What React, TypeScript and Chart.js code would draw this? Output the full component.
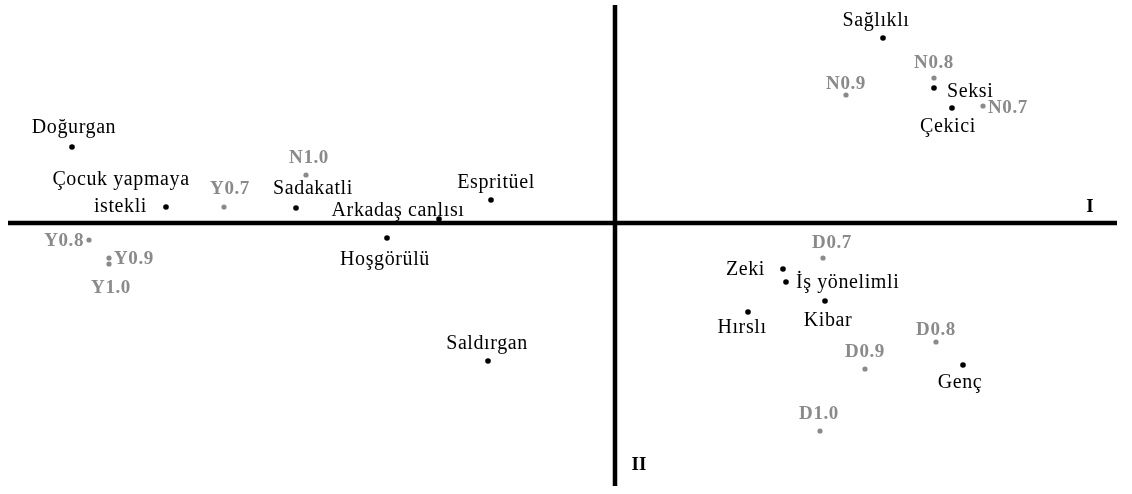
import React, { useEffect, useRef } from "react";
import { Chart, registerables } from "chart.js";

Chart.register(...registerables);

// Dimension I / Dimension II scores
const attributeNames = [
  "Doğurgan", "Çocuk yapmaya istekli", "Sadakatli", "Arkadaş canlısı", "Espritüel",
  "Hoşgörülü", "Saldırgan", "Sağlıklı", "Seksi", "Çekici",
  "Zeki", "İş yönelimli", "Kibar", "Hırslı", "Genç",
];
const attributeDim1 = [
  -1.086, -0.898, -0.638, -0.352, -0.248,
  -0.456, -0.254, 0.536, 0.638, 0.674,
  0.336, 0.342, 0.420, 0.266, 0.696,
];
const attributeDim2 = [
  0.152, 0.032, 0.030, 0.008, 0.046,
  -0.030, -0.276, 0.370, 0.270, 0.230,
  -0.092, -0.118, -0.156, -0.178, -0.284,
];

const groupNames = [
  "Y0.7", "Y0.8", "Y0.9", "Y1.0", "N1.0", "N0.9", "N0.8", "N0.7",
  "D0.7", "D0.8", "D0.9", "D1.0",
];
const groupDim1 = [
  -0.782, -1.052, -1.012, -1.012, -0.618, 0.462, 0.638, 0.736,
  0.416, 0.642, 0.500, 0.410,
];
const groupDim2 = [
  0.032, -0.034, -0.070, -0.082, 0.096, 0.256, 0.290, 0.234,
  -0.070, -0.238, -0.292, -0.416,
];

const dim1Range = [-1.214, 1.004];
const dim2Range = [-0.526, 0.436];

const axisTitles = ["I", "II"];
const axisTitleX = [0.95, 0.048];
const axisTitleY = [0.022, -0.494];

// label placement (pixel offsets from point to text baseline)
type Place = { t?: string; dx: number; dy: number; align?: CanvasTextAlign };
const placement: Record<string, Place[]> = {
  "Doğurgan": [{ dx: 2, dy: -14 }],
  "Çocuk yapmaya istekli": [
    { t: "Çocuk yapmaya", dx: -45, dy: -22 },
    { t: "istekli", dx: -19, dy: 5, align: "right" },
  ],
  "Sadakatli": [{ dx: 17, dy: -14 }],
  "Arkadaş canlısı": [{ dx: -41, dy: -3 }],
  "Espritüel": [{ dx: 5, dy: -12 }],
  "Hoşgörülü": [{ dx: -2, dy: 27 }],
  "Saldırgan": [{ dx: -1, dy: -12 }],
  "Sağlıklı": [{ dx: -7, dy: -12 }],
  "Seksi": [{ dx: 13, dy: 9, align: "left" }],
  "Çekici": [{ dx: -4, dy: 24 }],
  "Zeki": [{ dx: -18, dy: 6, align: "right" }],
  "İş yönelimli": [{ dx: 10, dy: 6, align: "left" }],
  "Kibar": [{ dx: 3, dy: 25 }],
  "Hırslı": [{ dx: -6, dy: 21 }],
  "Genç": [{ dx: -3, dy: 23 }],
  "Y0.7": [{ dx: 6, dy: -13 }],
  "Y0.8": [{ dx: -5, dy: 6, align: "right" }],
  "Y0.9": [{ dx: 5, dy: 6, align: "left" }],
  "Y1.0": [{ dx: 2, dy: 29 }],
  "N1.0": [{ dx: 3, dy: -12 }],
  "N0.9": [{ dx: 0, dy: -6 }],
  "N0.8": [{ dx: 0, dy: -10 }],
  "N0.7": [{ dx: 5, dy: 7, align: "left" }],
  "D0.7": [{ dx: 9, dy: -10 }],
  "D0.8": [{ dx: 0, dy: -7 }],
  "D0.9": [{ dx: 0, dy: -12 }],
  "D1.0": [{ dx: -1, dy: -12 }],
};

const GRAY = "#8a8a8a";
const SERIF = '"Liberation Serif", "Times New Roman", serif';

const labelPlugin = {
  id: "pointLabels",
  afterDatasetsDraw(chart: any) {
    const ctx: CanvasRenderingContext2D = chart.ctx;
    ctx.save();
    ctx.textBaseline = "alphabetic";
    chart.data.datasets.forEach((ds: any, di: number) => {
      if (!ds.names) return;
      const meta = chart.getDatasetMeta(di);
      const bold = ds.isGroup;
      ctx.font = bold ? `bold 19px ${SERIF}` : `20px ${SERIF}`;
      (ctx as any).letterSpacing = bold ? "0.6px" : "0.6px";
      ctx.fillStyle = bold ? GRAY : "#000";
      meta.data.forEach((el: any, i: number) => {
        const name = ds.names[i];
        const places = placement[name] || [{ dx: 0, dy: -10 }];
        places.forEach((p) => {
          ctx.textAlign = p.align || "center";
          ctx.fillText(p.t || name, el.x + p.dx, el.y + p.dy);
        });
      });
    });
    const xs = chart.scales.x;
    const ys = chart.scales.y;
    ctx.font = `bold 19px ${SERIF}`;
    (ctx as any).letterSpacing = "0px";
    ctx.fillStyle = "#000";
    ctx.textAlign = "center";
    axisTitles.forEach((t, i) => {
      ctx.fillText(t, xs.getPixelForValue(axisTitleX[i]), ys.getPixelForValue(axisTitleY[i]));
    });
    ctx.restore();
  },
};

export default function App() {
  const ref = useRef<HTMLCanvasElement | null>(null);
  useEffect(() => {
    if (!ref.current) return;
    const chart = new Chart(ref.current, {
      type: "scatter",
      data: {
        datasets: [
          {
            type: "line",
            data: [
              { x: dim1Range[0], y: 0 },
              { x: dim1Range[1], y: 0 },
            ],
            borderColor: "#000",
            borderWidth: 4.5,
            pointRadius: 0,
            fill: false,
          } as any,
          {
            type: "line",
            data: [
              { x: 0, y: dim2Range[1] },
              { x: 0, y: dim2Range[0] },
            ],
            borderColor: "#000",
            borderWidth: 4.5,
            pointRadius: 0,
            fill: false,
          } as any,
          {
            data: groupNames.map((_, i) => ({ x: groupDim1[i], y: groupDim2[i] })),
            names: groupNames,
            isGroup: true,
            pointRadius: 2.6,
            pointBackgroundColor: GRAY,
            pointBorderWidth: 0,
            borderColor: GRAY,
          } as any,
          {
            data: attributeNames.map((_, i) => ({ x: attributeDim1[i], y: attributeDim2[i] })),
            names: attributeNames,
            pointRadius: 2.8,
            pointBackgroundColor: "#000",
            pointBorderWidth: 0,
            borderColor: "#000",
          } as any,
        ],
      },
      options: {
        animation: false,
        responsive: false,
        maintainAspectRatio: false,
        layout: { padding: { left: 8, right: 15, top: 5, bottom: 8 } },
        plugins: { legend: { display: false }, tooltip: { enabled: false } },
        scales: {
          x: { type: "linear", min: dim1Range[0], max: dim1Range[1], display: false },
          y: { type: "linear", min: dim2Range[0], max: dim2Range[1], display: false },
        },
      },
      plugins: [labelPlugin],
    });
    return () => chart.destroy();
  }, []);
  return (
    <div style={{ position: "absolute", left: 0, top: 0, width: 1132, height: 494, background: "#fff" }}>
      <canvas ref={ref} width={1132} height={494} style={{ display: "block", width: 1132, height: 494 }} />
    </div>
  );
}
